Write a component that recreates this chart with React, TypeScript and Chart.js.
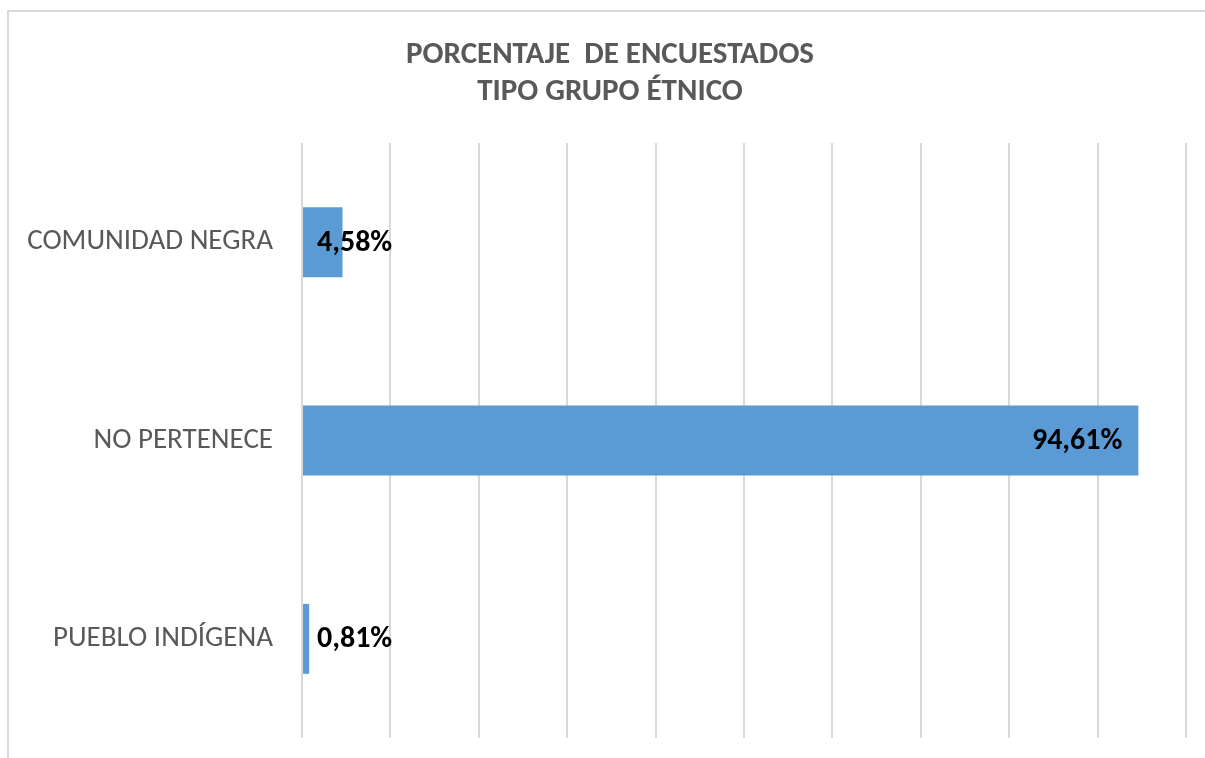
import React, { useEffect, useRef } from "react";
import { Chart, registerables } from "chart.js";

Chart.register(...registerables);

const categories = ["COMUNIDAD NEGRA", "NO PERTENECE", "PUEBLO INDÍGENA"];
const percentages = [4.58, 94.61, 0.81];
const titleLines = ["PORCENTAJE  DE ENCUESTADOS", "TIPO GRUPO ÉTNICO"];
const axisMin = 0;
const axisMax = 100;
const axisStep = 10;

const FONT = "Carlito, Calibri, 'Open Sans', sans-serif";

const formatPct = (v: number) => v.toFixed(2).replace(".", ",") + "%";

const valueLabelPlugin = {
  id: "valueLabels",
  afterDatasetsDraw(chart: any) {
    const ctx = chart.ctx;
    const meta = chart.getDatasetMeta(0);
    const data = chart.data.datasets[0].data as number[];
    ctx.save();
    ctx.font = `bold 30px ${FONT}`;
    ctx.fillStyle = "#000000";
    ctx.textBaseline = "middle";
    ctx.textAlign = "left";
    meta.data.forEach((bar: any, i: number) => {
      const text = formatPct(data[i]);
      const w = ctx.measureText(text).width;
      const left = Math.max(bar.base + 14, bar.x - 16 - w);
      ctx.fillText(text, left, bar.y + 1);
    });
    ctx.restore();
  },
};

const titlePlugin = {
  id: "centredTitle",
  afterDraw(chart: any) {
    const ctx = chart.ctx;
    ctx.save();
    ctx.font = `bold 31px ${FONT}`;
    ctx.fillStyle = "#595959";
    ctx.textAlign = "center";
    ctx.textBaseline = "middle";
    const cx = (chart.width + 15) / 2;
    titleLines.forEach((line, i) => {
      ctx.fillText(line, cx, 55 + i * 37.5);
    });
    ctx.restore();
  },
};

export default function App() {
  const canvasRef = useRef<HTMLCanvasElement | null>(null);

  useEffect(() => {
    if (!canvasRef.current) return;
    const chart = new Chart(canvasRef.current, {
      type: "bar",
      data: {
        labels: categories,
        datasets: [
          {
            data: percentages,
            backgroundColor: "#5B9BD5",
            borderWidth: 0,
            barPercentage: 1,
            categoryPercentage: 0.353,
          },
        ],
      },
      options: {
        indexAxis: "y",
        animation: false,
        responsive: false,
        maintainAspectRatio: false,
        layout: { padding: { left: 0, right: 19, top: 143, bottom: 20 } },
        plugins: {
          legend: { display: false },
          tooltip: { enabled: false },
          title: { display: false },
        },
        scales: {
          x: {
            min: axisMin,
            max: axisMax,
            ticks: { display: false, stepSize: axisStep },
            grid: { color: "#d9d9d9", lineWidth: 2, drawTicks: false },
            border: { display: false },
            afterFit(scale: any) {
              scale.height = 0;
              scale.paddingLeft = 0;
              scale.paddingRight = 0;
            },
          },
          y: {
            grid: { display: false, drawTicks: false },
            border: { display: false },
            ticks: {
              color: "#595959",
              font: { family: FONT, size: 29 },
              padding: 29,
            },
            afterFit(scale: any) {
              scale.width = 302;
              scale.paddingTop = 0;
              scale.paddingBottom = 0;
            },
          },
        },
      },
      plugins: [valueLabelPlugin, titlePlugin],
    });
    return () => chart.destroy();
  }, []);

  return (
    <div style={{ position: "fixed", left: 0, top: 0, width: 1205, height: 758, background: "#fff" }}>
      <div
        style={{
          position: "absolute",
          left: 7,
          top: 10,
          width: 1300,
          height: 900,
          borderLeft: "2px solid #d9d9d9",
          borderTop: "2px solid #d9d9d9",
        }}
      />
      <canvas
        ref={canvasRef}
        width={1205}
        height={758}
        style={{ position: "absolute", left: 0, top: 0, width: 1205, height: 758 }}
      />
    </div>
  );
}
